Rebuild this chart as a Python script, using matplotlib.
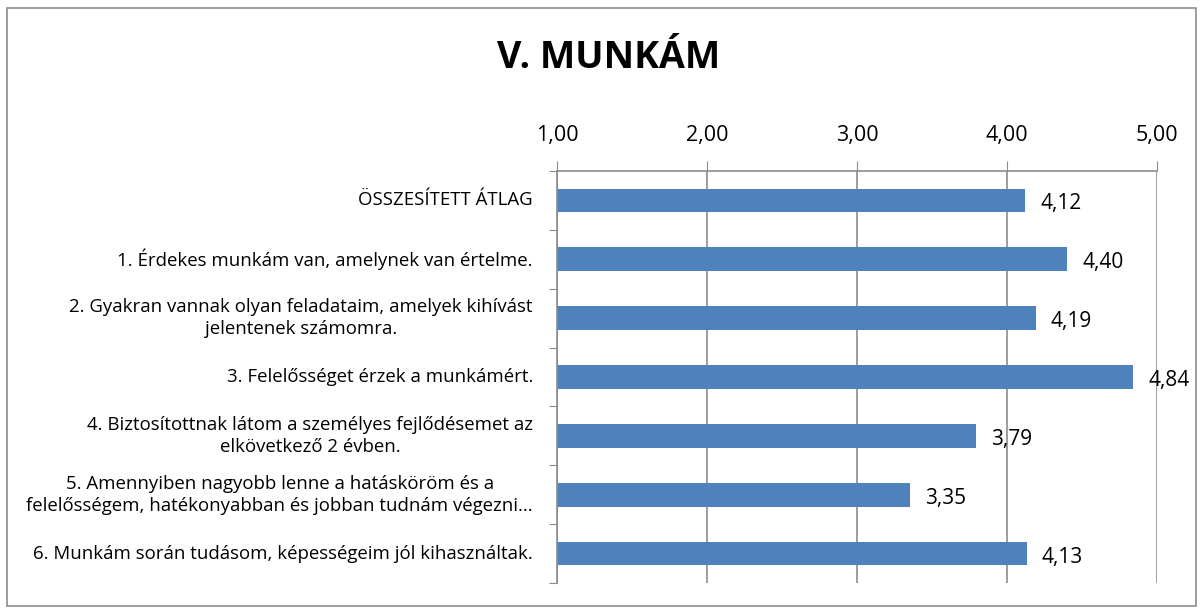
import matplotlib
matplotlib.use('Agg')
import matplotlib.pyplot as plt
from matplotlib.patches import Rectangle
from matplotlib.ticker import FuncFormatter

categories = [
    "ÖSSZESÍTETT ÁTLAG",
    "1. Érdekes munkám van, amelynek van értelme.",
    "2. Gyakran vannak olyan feladataim, amelyek kihívást\njelentenek számomra.",
    "3. Felelősséget érzek a munkámért.",
    "4. Biztosítottnak látom a személyes fejlődésemet az\nelkövetkező 2 évben.",
    "5. Amennyiben nagyobb lenne a hatásköröm és a\nfelelősségem, hatékonyabban és jobban tudnám végezni...",
    "6. Munkám során tudásom, képességeim jól kihasználtak.",
]
values = [4.12, 4.40, 4.19, 4.84, 3.79, 3.35, 4.13]
x_ticks = [1, 2, 3, 4, 5]

plt.rcParams['font.family'] = ['Open Sans', 'DejaVu Sans']

fig = plt.figure(figsize=(12.03, 6.08), dpi=100)
fig.patches.append(Rectangle((0.006, 0.003), 0.988, 0.984, transform=fig.transFigure,
                             fill=False, edgecolor='#8c8c8c', linewidth=1.2))
ax = fig.add_axes([0.463, 0.041, 0.499, 0.678])

pos = list(range(len(categories)))
ax.barh(pos, [v - 1 for v in values], left=1, height=0.4, color='#4f81bd')
for p, v in zip(pos, values):
    ax.text(v + 0.1, p + 0.06, f"{v:.2f}".replace('.', ','), va='center', ha='left', fontsize=15)

ax.set_xlim(1, 5)
ax.set_ylim(len(categories) - 0.5, -0.5)
ax.xaxis.tick_top()
ax.set_xticks(x_ticks)
ax.xaxis.set_major_formatter(FuncFormatter(lambda x, _: f"{x:.2f}".replace('.', ',')))
ax.tick_params(axis='x', length=7, color='#8c8c8c', labelsize=15.5, pad=11)
ax.grid(axis='x', color='#8c8c8c', linewidth=1.2)
ax.set_axisbelow(True)

ax.set_yticks([p + 0.5 for p in pos[:-1]] + [-0.5, len(categories) - 0.5])
ax.set_yticklabels([])
ax.tick_params(axis='y', length=6, color='#8c8c8c')
for p, c in zip(pos, categories):
    ax.text(-0.04, p, c, transform=ax.get_yaxis_transform(), ha='right', va='center',
            multialignment='center', fontsize=13.4, linespacing=1.3)

for s in ['right', 'bottom']:
    ax.spines[s].set_visible(False)
for s in ['top', 'left']:
    ax.spines[s].set_color('#8c8c8c')
    ax.spines[s].set_linewidth(1.2)

fig.text(0.506, 0.905, "V. MUNKÁM", ha='center', va='center', fontsize=27, fontweight='bold')

fig.savefig('out.png', dpi=100)
